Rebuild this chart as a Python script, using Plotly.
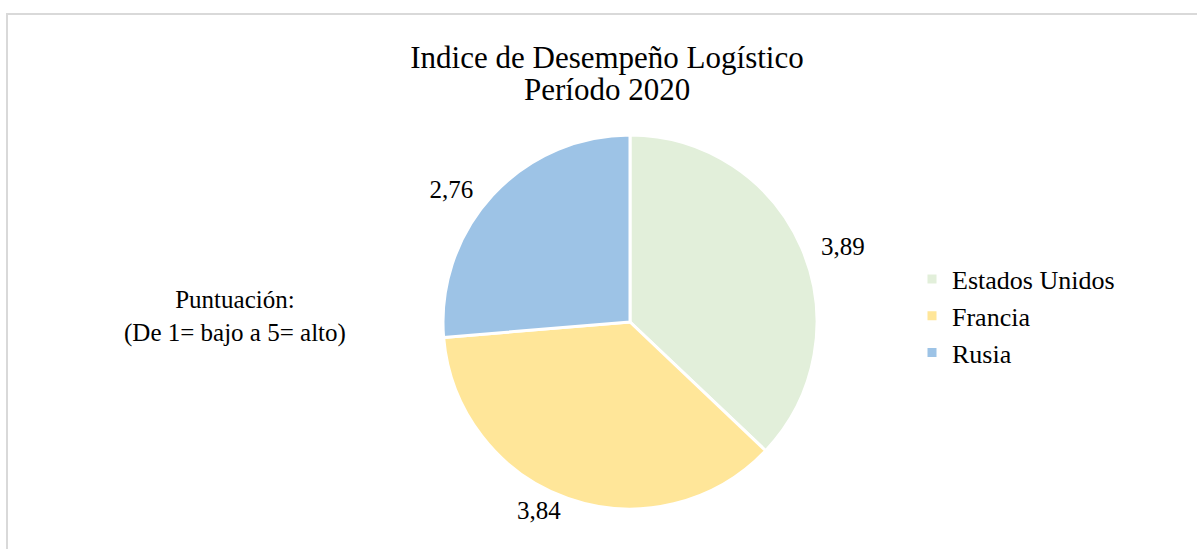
import plotly.graph_objects as go

paises = ["Estados Unidos", "Francia", "Rusia"]
puntuacion = [3.89, 3.84, 2.76]
colores = ["#E2EFDA", "#FFE699", "#9DC3E6"]
titulo = "Indice de Desempeño Logístico"
subtitulo = "Período 2020"
nota = "Puntuación:<br>(De 1= bajo a 5= alto)"

W, H = 1197, 549
FONT = "Liberation Serif"
NB = "\u00a0"

fig = go.Figure(go.Pie(
    labels=paises,
    values=puntuacion,
    sort=False,
    direction="clockwise",
    rotation=0,
    marker=dict(colors=colores, line=dict(color="white", width=3)),
    texttemplate=[NB * 2 + "%{value:.2f}", "%{value:.2f}", "%{value:.2f}" + NB * 2],
    textposition="outside",
    textfont=dict(family=FONT, size=25, color="black"),
    hoverinfo="label+value",
    domain=dict(x=[(630 - 187) / W, (630 + 187) / W],
                y=[(227 - 187) / H, (227 + 187) / H]),
))

fig.update_layout(
    width=W, height=H,
    margin=dict(l=0, r=0, t=0, b=0),
    paper_bgcolor="white",
    separators=",.",
    font=dict(family=FONT, color="black"),
    title=dict(text=titulo,
               x=607 / W, xanchor="center", xref="paper",
               y=1 - 57 / H, yanchor="middle", yref="container",
               font=dict(family=FONT, size=31, color="black")),
    legend=dict(x=912 / W, xanchor="left", y=1 - 316 / H, yanchor="middle",
                font=dict(family=FONT, size=26, color="black"),
                bgcolor="rgba(0,0,0,0)"),
    annotations=[
        dict(text=subtitulo, x=607 / W, y=1 - 90 / H, xref="paper", yref="paper",
             xanchor="center", yanchor="middle", showarrow=False,
             font=dict(family=FONT, size=31, color="black")),
        dict(text=nota, x=235 / W, y=1 - 316 / H, xref="paper", yref="paper",
             xanchor="center", yanchor="middle", showarrow=False,
             font=dict(family=FONT, size=25, color="black")),
    ],
    shapes=[dict(type="rect", xref="paper", yref="paper",
                 x0=7 / W, x1=1.2, y0=-0.2, y1=1 - 14 / H,
                 line=dict(color="#D9D9D9", width=2), fillcolor="rgba(0,0,0,0)",
                 layer="below")],
)

fig.write_html("out.html", config={"displayModeBar": False},
               post_script="document.body.style.margin='0';")
